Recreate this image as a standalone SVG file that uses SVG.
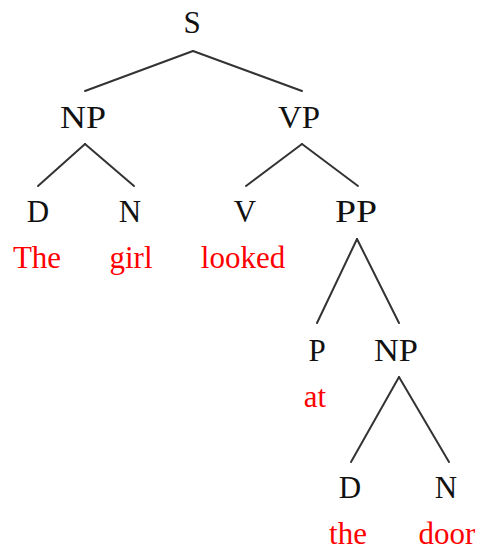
<svg xmlns="http://www.w3.org/2000/svg" width="478" height="548" viewBox="0 0 478 548">
<style>
text{font-family:"Liberation Serif","DejaVu Serif",serif;font-size:31px;text-anchor:middle}
.cat{fill:#111}
.word{fill:#ff0000}
#connectors line{stroke:#333;stroke-width:2;stroke-linecap:round}
</style>
<rect width="478" height="548" fill="#fff"/>
<g id="connectors">
<line x1="193" y1="51" x2="85" y2="91"/>
<line x1="193" y1="51" x2="302" y2="91"/>
<line x1="85" y1="144" x2="38" y2="186"/>
<line x1="85" y1="144" x2="134" y2="186"/>
<line x1="302" y1="144" x2="246" y2="186"/>
<line x1="302" y1="144" x2="358" y2="186"/>
<line x1="357" y1="239" x2="317" y2="323"/>
<line x1="357" y1="239" x2="399" y2="323"/>
<line x1="399" y1="377" x2="351" y2="462"/>
<line x1="399" y1="377" x2="449" y2="462"/>
</g>
<g id="S"><text class="cat" x="192" y="33">S</text></g>
<g id="NP1"><text class="cat" x="83" y="128" textLength="46" lengthAdjust="spacingAndGlyphs">NP</text></g>
<g id="VP"><text class="cat" x="299" y="128" textLength="42" lengthAdjust="spacingAndGlyphs">VP</text></g>
<g id="D1"><text class="cat" x="38" y="222">D</text></g>
<g id="N1"><text class="cat" x="130" y="222">N</text></g>
<g id="V"><text class="cat" x="245" y="222">V</text></g>
<g id="PP"><text class="cat" x="356" y="222" textLength="42" lengthAdjust="spacingAndGlyphs">PP</text></g>
<g id="w-The"><text class="word" x="37" y="268">The</text></g>
<g id="w-girl"><text class="word" x="131" y="268">girl</text></g>
<g id="w-looked"><text class="word" x="243" y="268">looked</text></g>
<g id="P"><text class="cat" x="317" y="361">P</text></g>
<g id="NP2"><text class="cat" x="396" y="361" textLength="44" lengthAdjust="spacingAndGlyphs">NP</text></g>
<g id="w-at"><text class="word" x="315" y="407">at</text></g>
<g id="D2"><text class="cat" x="350" y="498">D</text></g>
<g id="N2"><text class="cat" x="446" y="498">N</text></g>
<g id="w-the"><text class="word" x="348" y="544">the</text></g>
<g id="w-door"><text class="word" x="447" y="544">door</text></g>
</svg>
